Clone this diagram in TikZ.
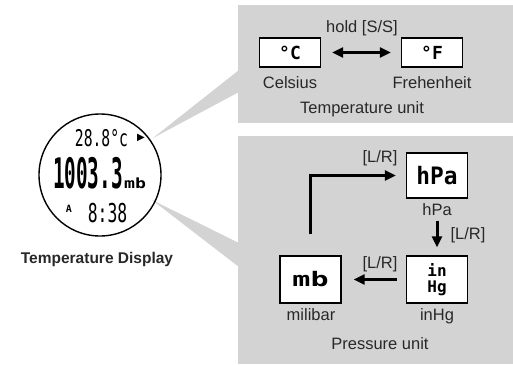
\documentclass[tikz,border=0pt]{standalone}
\usepackage{fontspec}
\setmainfont{Liberation Sans}
\newfontfamily\lcdfont{DejaVu Sans Mono}
\newfontfamily\symfont{DejaVu Sans}
\usetikzlibrary{arrows.meta,positioning}
\definecolor{panelgray}{RGB}{211,211,211}
\definecolor{labelgray}{RGB}{40,40,40}
\tikzset{
    unitbox/.style={draw, line width=1.4pt, fill=white, minimum width=61pt, minimum height=29pt, inner sep=0pt},
    caption/.style={anchor=base, text=labelgray, font=\fontsize{16.5}{18}\selectfont},
    lcd/.style={font=\lcdfont\bfseries\fontsize{#1}{#1}\selectfont},
    flow/.style={line width=3pt, -{Triangle[length=11pt,width=10pt]}},
}

\begin{document}
\begin{tikzpicture}[x=1pt, y=-1pt]
        \useasboundingbox (0,0) rectangle (513,364);
        % Grey panels and the two call-outs.
            \fill[panelgray] (238,5) rectangle (513,123);
            \fill[panelgray] (238,136) rectangle (513,364);
            \fill[panelgray] (153,138) -- (239,70) -- (239,92) -- cycle;
            \fill[panelgray] (152,200) -- (239,243) -- (239,267) -- cycle;
        % The watch face.
            \node[circle, draw, line width=1.4pt, minimum size=122pt] (watch) at (100,175) {};
            \node[anchor=base, font=\lcdfont\fontsize{23}{23}\selectfont] (tempread) at (101.5,146) {\scalebox{0.64}[1]{28.8°c}};
            \node[font=\symfont\fontsize{10}{10}\selectfont] (flag) at (141,138) {▶};
            \node[anchor=base, lcd=42] (pressread) at (88,188) {\scalebox{0.46}[1]{1003.3}};
            \node[anchor=base west, inner sep=0pt, lcd=14] (mbread) at (124,188) {\scalebox{1.3}[1]{mb}};
            \node[lcd=10] (alarm) at (69,209) {A};
            \node[anchor=base, font=\lcdfont\fontsize{26}{26}\selectfont] (time) at (107.5,222) {\scalebox{0.63}[1]{8:38}};
            \node[anchor=base, text=labelgray, font=\bfseries\fontsize{15.5}{17}\selectfont] (title) at (97,263) {Temperature Display};
        % Temperature unit.
            \node[unitbox, lcd=18] (celsius) at (290,52.5) {°C};
            \node[unitbox, lcd=18] (fahrenheit) at (432,52.5) {°F};
            \draw[line width=3pt, {Triangle[length=11pt,width=10pt]}-{Triangle[length=11pt,width=10pt]}] ([xshift=11pt]celsius.east) -- ([xshift=-10pt]fahrenheit.west);
            \node[caption] (hold) at (362,32) {hold [S/S]};
            \node[caption] (celsiuslbl) at (290,88) {Celsius};
            \node[caption] (fahrenheitlbl) at (432,88) {Frehenheit};
            \node[caption] (tempunit) at (362,113) {Temperature unit};
        % Pressure unit.
            \node[unitbox, minimum height=45pt, lcd=24] (hpa) at (437,175.5) {\scalebox{0.95}[1]{hPa}};
            \node[unitbox, minimum height=47pt, align=center, lcd=16] (inhg) at (437,279.5) {in\\Hg};
            \node[unitbox, minimum height=47pt, lcd=20] (milibar) at (310.5,279.5) {\scalebox{1.5}[1]{mb}};
            \draw[flow] ([yshift=21pt]milibar.north) |- ([xshift=-10pt]hpa.west);
            \draw[flow] ([yshift=-22pt]hpa.south) -- ([yshift=8pt]inhg.north);
            \draw[flow] ([xshift=-9pt]inhg.west) -- ([xshift=12pt]milibar.east);
            \node[caption] (keytop) at (380,162) {[L/R]};
            \node[caption] (hpalbl) at (437,215) {hPa};
            \node[caption] (keyright) at (468,239) {[L/R]};
            \node[caption] (keyleft) at (380,268) {[L/R]};
            \node[caption] (milibarlbl) at (311,320) {milibar};
            \node[caption] (inhglbl) at (437,320) {inHg};
            \node[caption] (pressunit) at (380,349) {Pressure unit};
    \end{tikzpicture}
\end{document}
